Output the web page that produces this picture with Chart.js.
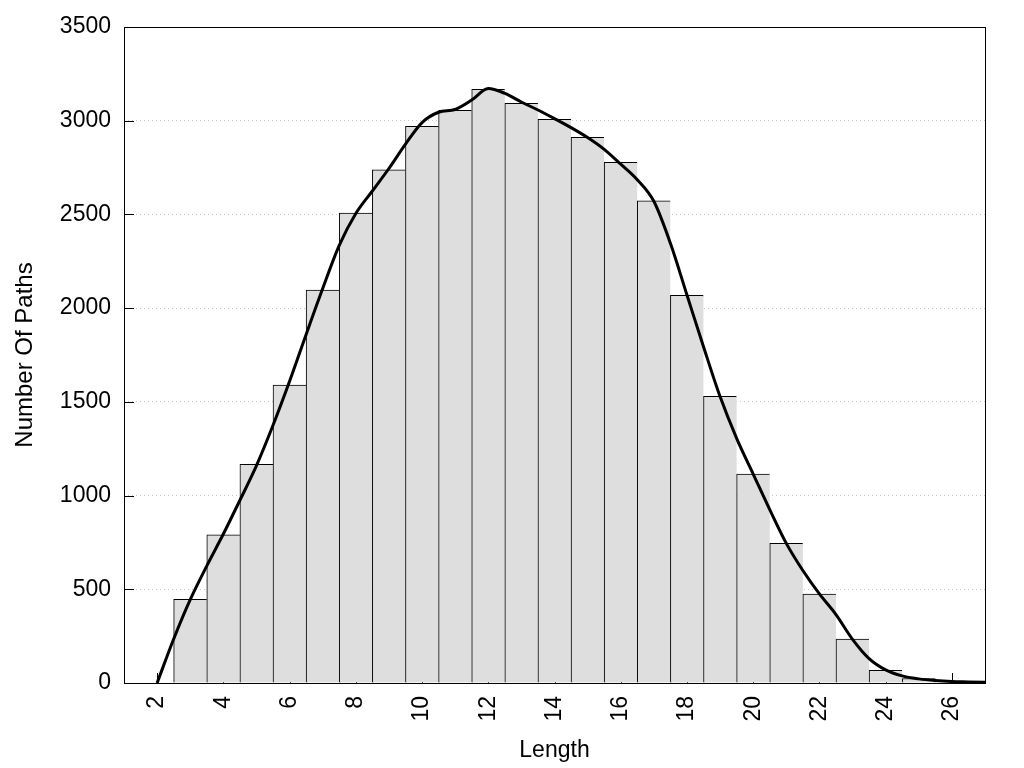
<!DOCTYPE html>
<html>
<head>
<meta charset="utf-8">
<title>Path length histogram</title>
<script src="https://cdn.jsdelivr.net/npm/chart.js@4"></script>
<style>
  html, body { margin: 0; padding: 0; background: #fff; }
  canvas { display: block; }
</style>
</head>
<body>
<canvas id="canvas" width="1024" height="768"></canvas>
<script>
// histogram bins (path length) and counts
var binLengths = [3, 4, 5, 6, 7, 8, 9, 10, 11, 12, 13, 14, 15, 16, 17, 18, 19, 20, 21, 22, 23, 24, 25];
var binCounts = [447, 790, 1167, 1590, 2097, 2507, 2738, 2970, 3056, 3168, 3093, 3007, 2912, 2778, 2572, 2068, 1530, 1114, 745, 474, 234, 68, 24];

// smoothed density curve
var curveX = [2, 2.5, 3, 3.5, 4, 4.5, 5, 5.5, 6, 6.5, 7, 7.5, 8, 8.5, 9, 9.5, 10, 10.5, 11, 11.5, 12, 12.5,
        13, 13.5, 14, 14.5, 15, 15.5, 16, 16.5, 17, 17.5, 18, 18.5, 19, 19.5, 20, 20.5, 21, 21.5, 22, 22.5,
        23, 23.5, 24, 24.5, 25, 25.5, 26, 26.5, 27];
var curveY = [0, 235, 445, 625, 795, 975, 1160, 1375, 1610, 1860, 2105, 2335, 2505, 2625, 2745, 2875, 2990, 3045, 3060, 3110, 3172, 3146,
        3100, 3057, 3011, 2963, 2910, 2847, 2768, 2685, 2570, 2346, 2070, 1794, 1528, 1305, 1115, 925, 745, 600, 475, 365,
        233, 130, 70, 38, 22, 13, 8, 6, 4];

var xTicks = [2, 4, 6, 8, 10, 12, 14, 16, 18, 20, 22, 24, 26];

var FONT = 'Liberation Sans, Arial, sans-serif';

// inward tick marks, drawn under the bars like the original
var innerTicks = {
        id: 'innerTicks',
        beforeDatasetsDraw: function(chart) {
                var ctx = chart.ctx, area = chart.chartArea;
                var xs = chart.scales.x, ys = chart.scales.y;
                ctx.save();
                ctx.strokeStyle = '#000';
                ctx.lineWidth = 1;
                ctx.beginPath();
                ys.ticks.forEach(function(t) {
                        var y = Math.round(ys.getPixelForValue(t.value)) + 0.5;
                        ctx.moveTo(area.left, y);
                        ctx.lineTo(area.left + 10, y);
                });
                xTicks.forEach(function(v) {
                        var x = Math.round(xs.getPixelForValue(v)) + 0.5;
                        ctx.moveTo(x, area.bottom);
                        ctx.lineTo(x, area.bottom - 10);
                });
                ctx.stroke();
                ctx.restore();
        }
};

// frame around the plot area
var frame = {
        id: 'frame',
        afterDatasetsDraw: function(chart) {
                var ctx = chart.ctx, a = chart.chartArea;
                ctx.save();
                ctx.strokeStyle = '#000';
                ctx.lineWidth = 1;
                ctx.strokeRect(Math.round(a.left) + 0.5, Math.round(a.top) + 0.5,
                        Math.round(a.right - a.left), Math.round(a.bottom - a.top));
                ctx.restore();
        }
};

var lastBin = binLengths.length - 1;

var config = {
        type: 'bar',
        data: {
                datasets: [{
                        type: 'line',
                        label: 'density',
                        data: curveX.map(function(x, i) { return {x: x, y: curveY[i]}; }),
                        borderColor: '#000',
                        borderWidth: 3,
                        pointRadius: 0,
                        fill: false,
                        cubicInterpolationMode: 'monotone',
                        order: 0
                }, {
                        type: 'bar',
                        label: 'paths',
                        data: binLengths.map(function(x, i) { return {x: x, y: binCounts[i]}; }),
                        backgroundColor: '#dedede',
                        borderColor: '#000',
                        borderWidth: function(c) {
                                return {top: 1, left: 1, bottom: 0, right: c.dataIndex === lastBin ? 1 : 0};
                        },
                        borderSkipped: false,
                        barPercentage: 1,
                        categoryPercentage: 1,
                        order: 1
                }]
        },
        options: {
                responsive: false,
                animation: false,
                devicePixelRatio: 1,
                layout: {padding: {top: 27, right: 39, left: 0, bottom: 0}},
                plugins: {
                        legend: {display: false},
                        tooltip: {enabled: false}
                },
                scales: {
                        x: {
                                type: 'linear',
                                min: 1,
                                max: 27,
                                offset: false,
                                afterBuildTicks: function(scale) {
                                        scale.ticks = xTicks.map(function(v) { return {value: v}; });
                                },
                                afterFit: function(scale) { scale.height = 85; },
                                grid: {display: false, drawTicks: false},
                                border: {display: false},
                                ticks: {
                                        autoSkip: false,
                                        minRotation: 90,
                                        maxRotation: 90,
                                        padding: 13,
                                        color: '#000',
                                        font: {family: FONT, size: 23},
                                        callback: function(v) { return String(v); }
                                },
                                title: {
                                        display: true,
                                        text: 'Length',
                                        color: '#000',
                                        font: {family: FONT, size: 23},
                                        padding: {top: 0, bottom: 4}
                                }
                        },
                        y: {
                                min: 0,
                                max: 3500,
                                afterFit: function(scale) { scale.width = 124; },
                                grid: {color: '#c4c4c4', lineWidth: 1, drawTicks: false},
                                border: {display: false, dash: [1, 3]},
                                ticks: {
                                        stepSize: 500,
                                        padding: 13,
                                        color: '#000',
                                        font: {family: FONT, size: 23},
                                        callback: function(v) { return String(v); }
                                },
                                title: {
                                        display: true,
                                        text: 'Number Of Paths',
                                        color: '#000',
                                        font: {family: FONT, size: 24},
                                        padding: {top: 11, bottom: 0}
                                }
                        }
                }
        },
        plugins: [innerTicks, frame]
};

window.onload = function() {
        var ctx = document.getElementById('canvas').getContext('2d');
        window.myChart = new Chart(ctx, config);
};
</script>
</body>
</html>
